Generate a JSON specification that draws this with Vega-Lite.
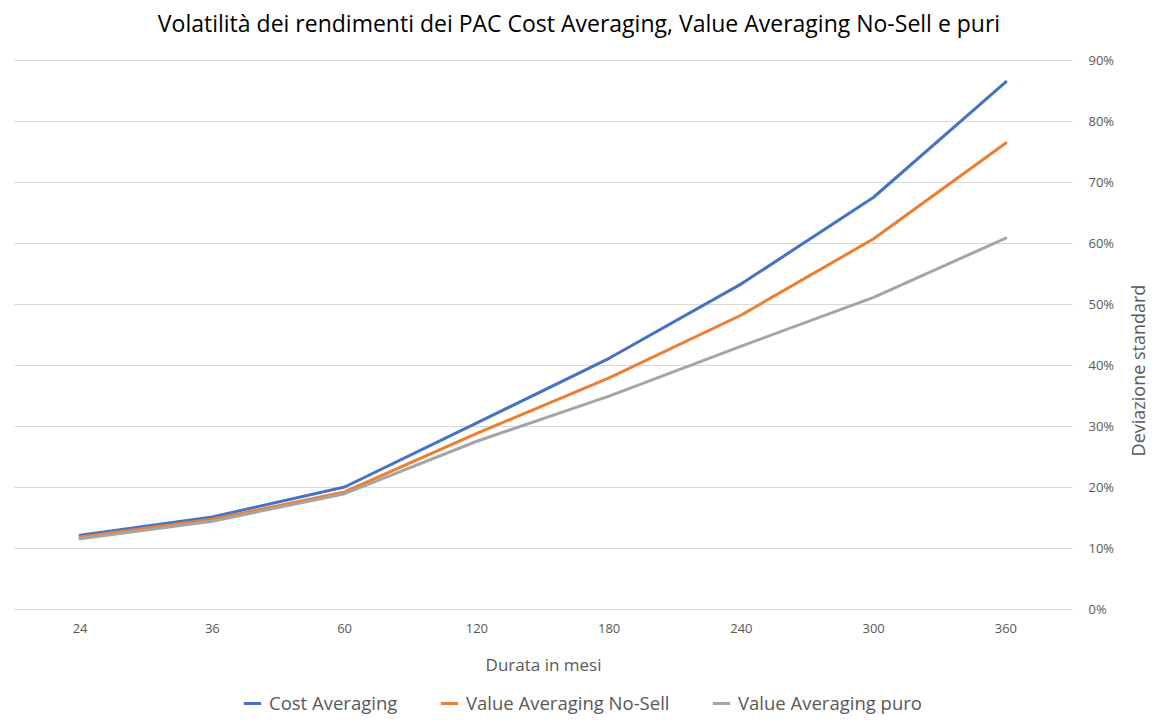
{
  "$schema": "https://vega.github.io/schema/vega-lite/v6.json",
  "autosize": {"type": "none"},
  "width": 1058,
  "height": 549,
  "padding": {"left": 14, "top": 60, "right": 85, "bottom": 119},
  "background": "white",
  "title": {
    "text": "Volatilità dei rendimenti dei PAC Cost Averaging, Value Averaging No-Sell e puri",
    "font": "Open Sans",
    "fontSize": 23,
    "fontWeight": "normal",
    "color": "#000000",
    "anchor": "middle",
    "dx": 36,
    "offset": 17
  },
  "data": {
    "values": [
      {"mesi": 24, "serie": "Cost Averaging", "dev": 0.121},
      {"mesi": 36, "serie": "Cost Averaging", "dev": 0.151},
      {"mesi": 60, "serie": "Cost Averaging", "dev": 0.200},
      {"mesi": 120, "serie": "Cost Averaging", "dev": 0.305},
      {"mesi": 180, "serie": "Cost Averaging", "dev": 0.411},
      {"mesi": 240, "serie": "Cost Averaging", "dev": 0.533},
      {"mesi": 300, "serie": "Cost Averaging", "dev": 0.675},
      {"mesi": 360, "serie": "Cost Averaging", "dev": 0.864},
      {"mesi": 24, "serie": "Value Averaging No-Sell", "dev": 0.118},
      {"mesi": 36, "serie": "Value Averaging No-Sell", "dev": 0.147},
      {"mesi": 60, "serie": "Value Averaging No-Sell", "dev": 0.192},
      {"mesi": 120, "serie": "Value Averaging No-Sell", "dev": 0.288},
      {"mesi": 180, "serie": "Value Averaging No-Sell", "dev": 0.379},
      {"mesi": 240, "serie": "Value Averaging No-Sell", "dev": 0.482},
      {"mesi": 300, "serie": "Value Averaging No-Sell", "dev": 0.607},
      {"mesi": 360, "serie": "Value Averaging No-Sell", "dev": 0.764},
      {"mesi": 24, "serie": "Value Averaging puro", "dev": 0.115},
      {"mesi": 36, "serie": "Value Averaging puro", "dev": 0.144},
      {"mesi": 60, "serie": "Value Averaging puro", "dev": 0.189},
      {"mesi": 120, "serie": "Value Averaging puro", "dev": 0.275},
      {"mesi": 180, "serie": "Value Averaging puro", "dev": 0.349},
      {"mesi": 240, "serie": "Value Averaging puro", "dev": 0.431},
      {"mesi": 300, "serie": "Value Averaging puro", "dev": 0.511},
      {"mesi": 360, "serie": "Value Averaging puro", "dev": 0.608}
    ]
  },
  "mark": {"type": "line", "strokeWidth": 3, "strokeJoin": "round", "strokeCap": "round"},
  "encoding": {
    "x": {
      "field": "mesi",
      "type": "ordinal",
      "scale": {"type": "band", "paddingInner": 0, "paddingOuter": 0},
      "axis": {
        "title": "Durata in mesi",
        "labelAngle": 0,
        "ticks": false,
        "domain": false,
        "grid": false,
        "labelPadding": 13,
        "titlePadding": 22
      }
    },
    "y": {
      "field": "dev",
      "type": "quantitative",
      "scale": {"domain": [0, 0.9]},
      "axis": {
        "orient": "right",
        "title": "Deviazione standard",
        "titleAngle": 270,
        "titleY": 310,
        "titleFontSize": 18,
        "format": ".0%",
        "values": [0, 0.1, 0.2, 0.3, 0.4, 0.5, 0.6, 0.7, 0.8, 0.9],
        "ticks": false,
        "domain": false,
        "labelPadding": 16,
        "titlePadding": 35
      }
    },
    "color": {
      "field": "serie",
      "type": "nominal",
      "scale": {
        "domain": ["Cost Averaging", "Value Averaging No-Sell", "Value Averaging puro"],
        "range": ["#4472C4", "#ED7D31", "#A5A5A5"]
      },
      "legend": {
        "title": null,
        "orient": "none",
        "direction": "horizontal",
        "legendX": 228,
        "legendY": 633,
        "symbolType": "stroke",
        "symbolSize": 300,
        "symbolStrokeWidth": 3,
        "labelOffset": 6,
        "labelLimit": 400,
        "columnPadding": 36
      }
    }
  },
  "config": {
    "font": "Open Sans",
    "view": {"stroke": null},
    "axis": {
      "labelFont": "Open Sans",
      "labelFontSize": 13,
      "labelColor": "#595959",
      "titleFont": "Open Sans",
      "titleFontSize": 17,
      "titleFontWeight": "normal",
      "titleColor": "#595959",
      "gridColor": "#D9D9D9",
      "gridWidth": 1
    },
    "legend": {
      "labelFont": "Open Sans",
      "labelFontSize": 18.5,
      "labelColor": "#595959"
    }
  }
}
